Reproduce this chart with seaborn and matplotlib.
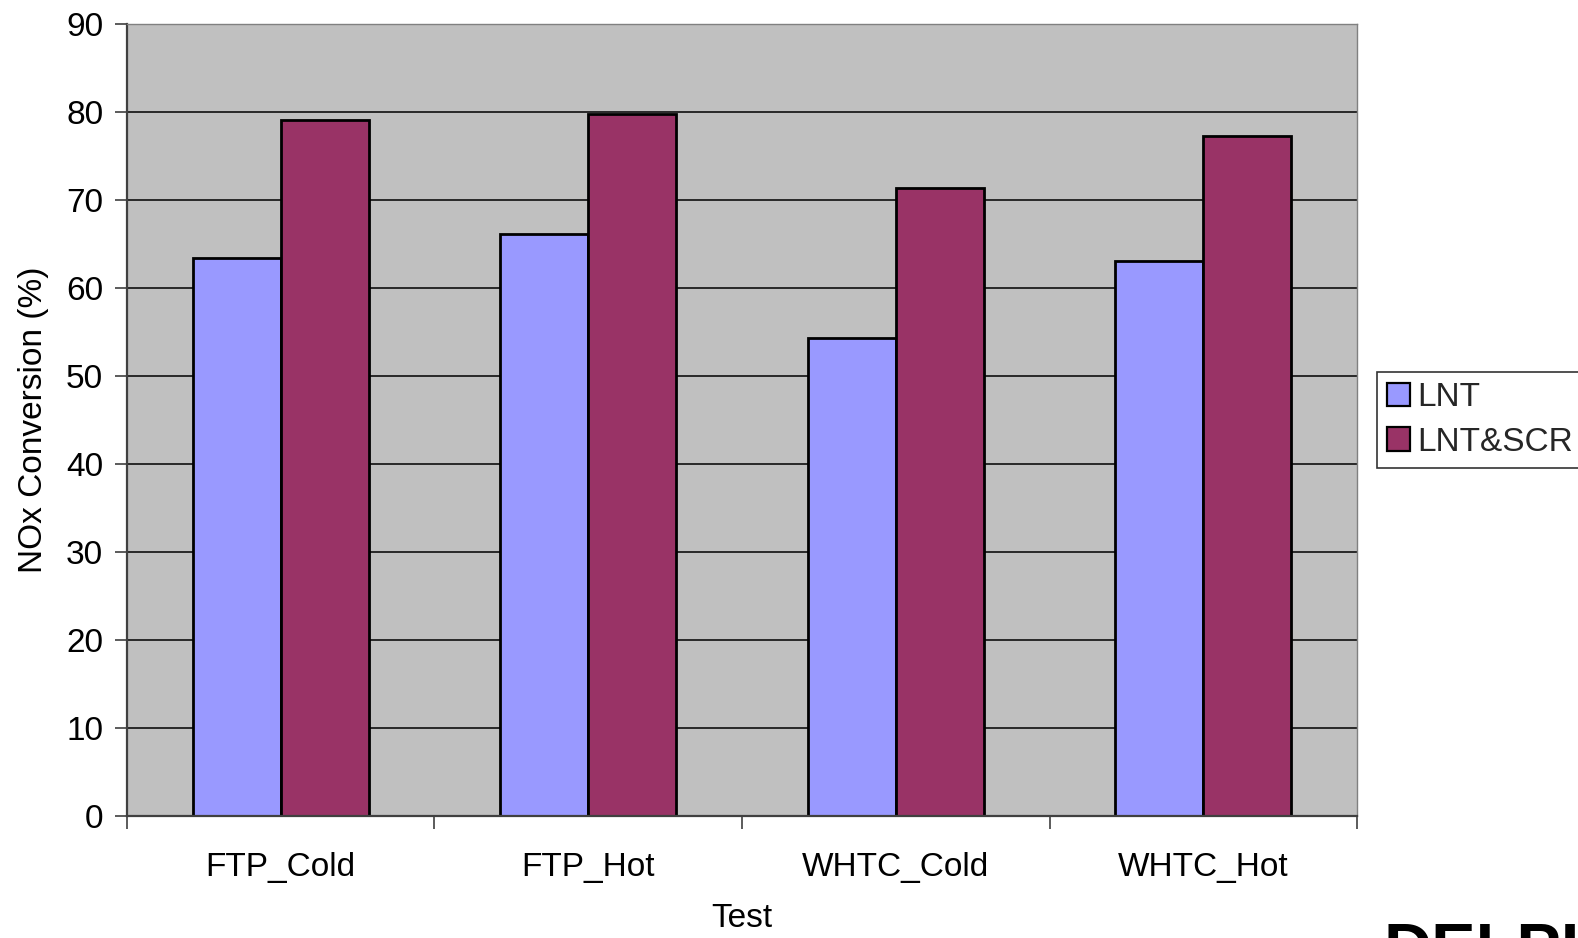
import matplotlib
matplotlib.use("Agg")
import matplotlib.pyplot as plt
from matplotlib.ticker import FixedLocator
import seaborn as sns
import pandas as pd

tests = ["FTP_Cold", "FTP_Hot", "WHTC_Cold", "WHTC_Hot"]
lnt = [63.4, 66.2, 54.4, 63.1]
lnt_scr = [79.1, 79.8, 71.4, 77.3]
series_names = ["LNT", "LNT&SCR"]
colors = ["#9999FF", "#993366"]
y_ticks = [0, 10, 20, 30, 40, 50, 60, 70, 80, 90]

df = pd.DataFrame({
    "Test": tests * 2,
    "Conversion": lnt + lnt_scr,
    "Series": [series_names[0]] * len(tests) + [series_names[1]] * len(tests),
})

sns.set_theme(style="white")
plt.rcParams["font.family"] = ["Liberation Sans", "DejaVu Sans"]

fig = plt.figure(figsize=(15.78, 9.38), dpi=100)
ax = fig.add_axes([0.0804, 0.130, 0.7796, 0.844])
ax.set_facecolor("#C0C0C0")

sns.barplot(data=df, x="Test", y="Conversion", hue="Series", order=tests,
            hue_order=series_names, palette=colors, width=0.572,
            edgecolor="black", linewidth=2.0, saturation=1, ax=ax,
            legend=True)

ax.set_xlim(-0.5, len(tests) - 0.5)
ax.set_ylim(0, 90)
ax.set_yticks(y_ticks)
ax.yaxis.grid(True, color="black", linewidth=1.1)
ax.xaxis.grid(False)
ax.set_axisbelow(True)

# category separators as outward tick marks between groups
ax.xaxis.set_minor_locator(FixedLocator([i - 0.5 for i in range(len(tests) + 1)]))
ax.tick_params(axis="x", which="major", length=0, labelsize=24, pad=26, colors="black")
ax.tick_params(axis="x", which="minor", length=9, width=1.2, color="#404040", direction="out", bottom=True)
ax.tick_params(axis="y", which="major", length=9, width=1.2, color="#404040", direction="out", left=True,
               labelsize=24, pad=8, labelcolor="black")

for side in ["left", "bottom"]:
    ax.spines[side].set_color("#404040")
    ax.spines[side].set_linewidth(1.6)
for side in ["top", "right"]:
    ax.spines[side].set_color("#808080")
    ax.spines[side].set_linewidth(1.0)

ax.set_xlabel("Test", fontsize=24, labelpad=14, color="black")
ax.set_ylabel("NOx Conversion (%)", fontsize=24, labelpad=12, color="black")

handles, labels = ax.get_legend_handles_labels()
ax.legend_.remove()
leg = fig.legend(handles, labels, loc="upper left", bbox_to_anchor=(0.8726, 0.603),
                 fontsize=24, frameon=True, fancybox=False, edgecolor="black",
                 handlelength=0.7, handleheight=0.7, handletextpad=0.2,
                 borderpad=0.3, labelspacing=0.4, borderaxespad=0)
leg.get_frame().set_linewidth(1.2)
for h in leg.legend_handles:
    h.set_edgecolor("black")
    h.set_linewidth(1.6)

# company logo in the bottom-right corner, running off the page edge
fig.text(0.877, 0.017, "DELPHI", fontsize=48, fontweight="bold", color="black",
         ha="left", va="top", family=["Liberation Sans", "DejaVu Sans"])

fig.savefig("out.png", dpi=100, facecolor="white")
